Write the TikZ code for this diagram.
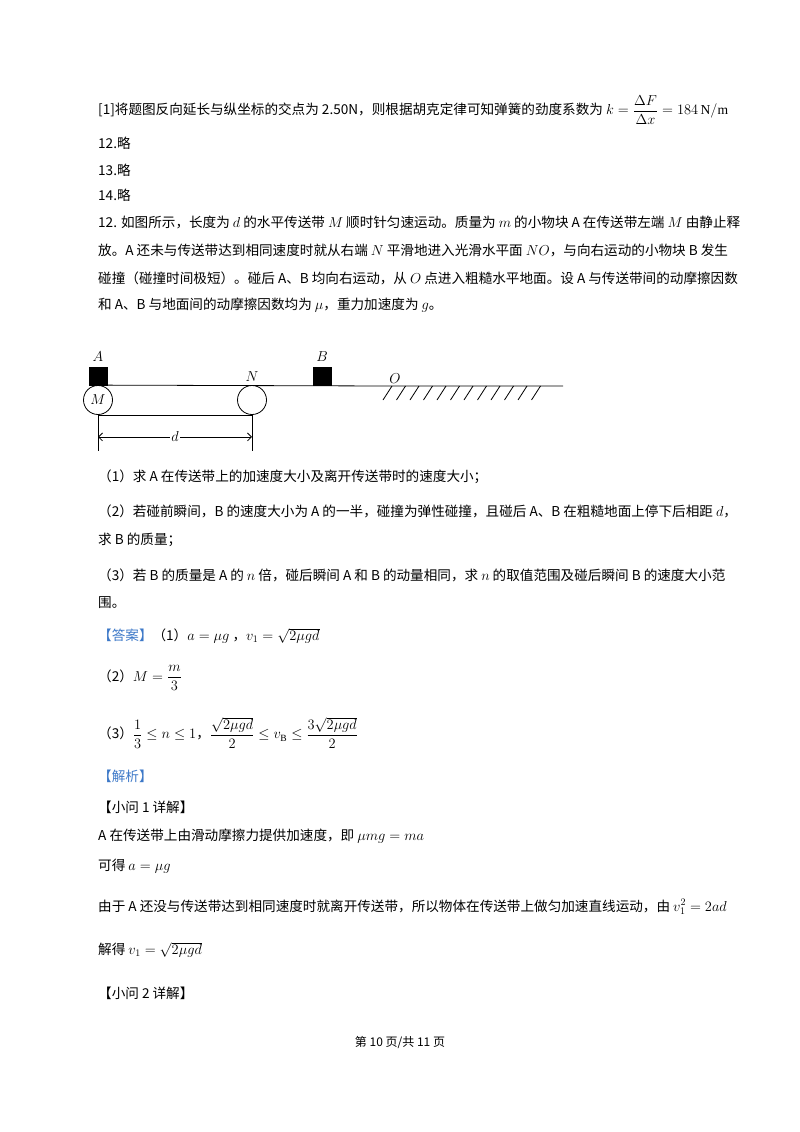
\documentclass[tikz,border=0pt]{standalone}
\usepackage{fontspec}
\usepackage{amsmath}
\setmainfont{Liberation Serif}
\newfontfamily\cjk{Noto Sans CJK SC}
\usetikzlibrary{positioning,arrows.meta}
\definecolor{ansblue}{RGB}{60,120,200}
\tikzset{
  line/.style={anchor=west, inner sep=0pt, font=\cjk\fontsize{13.6}{14}\selectfont},
  block/.style={draw, fill=black, minimum size=18pt, inner sep=0pt},
  wheel/.style={draw, circle, minimum size=29pt, inner sep=0pt},
  lbl/.style={font=\fontsize{15}{15}\selectfont, inner sep=1pt}
}
\begin{document}
\begin{tikzpicture}[x=1pt, y=-1pt]
        \useasboundingbox[fill=white] (0,0) rectangle (800,1132);
        % previous answer
        \node[line] (t1) at (98,110) {[1]将题图反向延长与纵坐标的交点为 2.50N，则根据胡克定律可知弹簧的劲度系数为 $k=\dfrac{\Delta F}{\Delta x}=184\,\mathrm{N/m}$};
        \node[line] (t2) at (98,143) {12.略};
        \node[line] (t3) at (98,170) {13.略};
        \node[line] (t4) at (98,195) {14.略};
        
        % question
        \node[line] (q1) at (98,222) {12. 如图所示，长度为 $d$ 的水平传送带 $M$ 顺时针匀速运动。质量为 $m$ 的小物块 A 在传送带左端 $M$ 由静止释};
        \node[line] (q2) at (98,250) {放。A 还未与传送带达到相同速度时就从右端 $N$ 平滑地进入光滑水平面 $NO$，与向右运动的小物块 B 发生};
        \node[line] (q3) at (98,278) {碰撞（碰撞时间极短）。碰后 A、B 均向右运动，从 $O$ 点进入粗糙水平地面。设 A 与传送带间的动摩擦因数};
        \node[line] (q4) at (98,305) {和 A、B 与地面间的动摩擦因数均为 $\mu$，重力加速度为 $g$。};
        
        % figure
        \begin{scope}[line width=0.8pt]
        \node[wheel] (M) at (98,400) {};
        \node[lbl] at (M) {$M$};
        \node[wheel] (N) at (252,400) {};
        \coordinate (O) at (388,386);
        \coordinate (E) at (563,386);
        \draw (M.north) -- (O) -- (E);
        \draw (M.south) -- (N.south);
        \node[block, anchor=south] (A) at (98,386) {};
        \node[block, anchor=south] (B) at (322,386) {};
        \node[lbl, above=4pt of A] {$A$};
        \node[lbl, above=4pt of B] {$B$};
        \node[lbl, above=2pt of N.north] {$N$};
        \node[lbl, above right=1pt and 0pt of O] {$O$};
        \foreach \i in {0,...,11}
            \draw (O) ++(4+\i*13.5,0) -- ++(-9,14);
        \draw (M.south) -- ++(0,36) coordinate (dl);
        \draw (N.south) -- ++(0,36) coordinate (dr);
        \draw[{Straight Barb[length=4pt]}-{Straight Barb[length=4pt]}] ([yshift=14]dl) -- node[fill=white, lbl] {$d$} ([yshift=14]dr);
        \end{scope}
        
        % sub-questions
        \node[line] (s1) at (98,477) {（1）求 A 在传送带上的加速度大小及离开传送带时的速度大小；};
        \node[line] (s2) at (98,511) {（2）若碰前瞬间，B 的速度大小为 A 的一半，碰撞为弹性碰撞，且碰后 A、B 在粗糙地面上停下后相距 $d$，};
        \node[line] (s3) at (98,540) {求 B 的质量；};
        \node[line] (s4) at (98,575) {（3）若 B 的质量是 A 的 $n$ 倍，碰后瞬间 A 和 B 的动量相同，求 $n$ 的取值范围及碰后瞬间 B 的速度大小范};
        \node[line] (s5) at (98,603) {围。};
        
        % answer
        \node[line] (a1) at (98,636) {\textcolor{ansblue}{【答案】}（1）$a=\mu g$\ ，$v_1=\sqrt{2\mu gd}$};
        \node[line] (a2) at (98,678) {（2）$M=\dfrac{m}{3}$};
        \node[line] (a3) at (98,733) {（3）$\dfrac{1}{3}\le n\le 1$，$\dfrac{\sqrt{2\mu gd}}{2}\le v_{\mathrm{B}}\le\dfrac{3\sqrt{2\mu gd}}{2}$};
        
        % analysis
        \node[line] (j1) at (98,776) {\textcolor{ansblue}{【解析】}};
        \node[line] (j2) at (98,807) {【小问 1 详解】};
        \node[line] (j3) at (98,836) {A 在传送带上由滑动摩擦力提供加速度，即 $\mu mg=ma$};
        \node[line] (j4) at (98,866) {可得 $a=\mu g$};
        \node[line] (j5) at (98,907) {由于 A 还没与传送带达到相同速度时就离开传送带，所以物体在传送带上做匀加速直线运动，由 $v_1^2=2ad$};
        \node[line] (j6) at (98,950) {解得 $v_1=\sqrt{2\mu gd}$};
        \node[line] (j7) at (98,993) {【小问 2 详解】};
        
        % footer
        \node[font=\cjk\fontsize{12}{12}\selectfont] (foot) at (400,1042) {第 10 页/共 11 页};
\end{tikzpicture}
\end{document}
